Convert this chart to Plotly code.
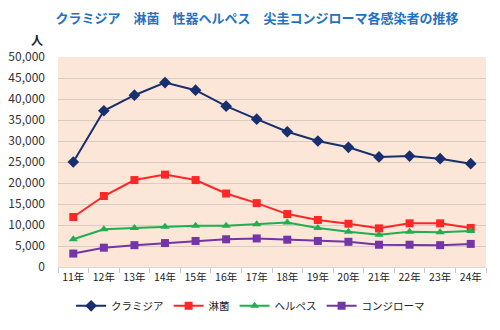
import plotly.graph_objects as go

years = ["11年", "12年", "13年", "14年", "15年", "16年", "17年", "18年", "19年", "20年", "21年", "22年", "23年", "24年"]
chlamydia = [25000, 37200, 40900, 43900, 42100, 38300, 35200, 32200, 30000, 28500, 26200, 26400, 25800, 24600]
gonorrhea = [11900, 16900, 20700, 22000, 20700, 17500, 15200, 12600, 11200, 10300, 9200, 10400, 10400, 9300]
herpes = [6600, 9000, 9300, 9600, 9800, 9800, 10200, 10600, 9300, 8400, 7700, 8400, 8300, 8600]
condyloma = [3200, 4600, 5200, 5700, 6200, 6600, 6800, 6500, 6200, 6000, 5300, 5300, 5200, 5500]

names = ["クラミジア", "淋菌", "ヘルペス", "コンジローマ"]
colors = ["#172F6E", "#FF2626", "#1FAF50", "#7335A8"]
symbols = ["diamond", "square", "triangle-up", "square"]
sizes = [9, 8, 8, 8]
series = [chlamydia, gonorrhea, herpes, condyloma]

font = "Noto Sans CJK JP"
fig = go.Figure()
for n, c, s, sz, v in zip(names, colors, symbols, sizes, series):
    fig.add_trace(go.Scatter(
        x=years, y=v, name=n, mode="lines+markers",
        line=dict(color=c, width=2),
        marker=dict(symbol=s, size=sz, color=c),
    ))

fig.update_layout(
    width=500, height=330,
    margin=dict(l=58, r=14, t=57, b=63, autoexpand=False),
    paper_bgcolor="white",
    plot_bgcolor="#FBE6D8",
    font=dict(family=font, size=12, color="#333333"),
    title=dict(text="<b>クラミジア　淋菌　性器ヘルペス　尖圭コンジローマ各感染者の推移</b>",
               x=0.514, xanchor="center", y=0.945, yanchor="middle",
               font=dict(family=font, size=13, color="#1F72C4")),
    legend=dict(orientation="h", x=0.45, xanchor="center", y=-0.185, yanchor="middle",
                font=dict(family=font, size=10.5, color="#222222"),
                itemwidth=30, tracegroupgap=0, bgcolor="rgba(0,0,0,0)"),
    showlegend=True,
    annotations=[dict(text="<b>人</b>", xref="paper", yref="paper", x=-0.03, y=1.085,
                      xanchor="right", yanchor="middle", showarrow=False,
                      font=dict(family=font, size=12, color="#222222"))],
)
fig.update_xaxes(
    range=[-0.5, len(years) - 0.5],
    showgrid=False, ticks="outside", tickson="boundaries", ticklen=5,
    tickcolor="#C8C8C8", showline=True, linecolor="#D8D8D8", tickangle=0,
    automargin=False,
    tickfont=dict(family=font, size=10.5, color="#222222"),
)
fig.update_yaxes(
    range=[0, 50000], dtick=5000, tickformat=",", showgrid=True,
    gridcolor="#D9CCC2", gridwidth=1, zeroline=False, automargin=False,
    ticklabelstandoff=12,
    tickfont=dict(family=font, size=12, color="#333333"),
)
fig.write_html("out.html")
